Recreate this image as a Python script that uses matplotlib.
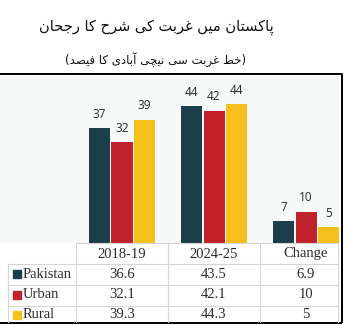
import numpy as np
import matplotlib
matplotlib.use("Agg")
import matplotlib.pyplot as plt

# --- data ---
periods = ["2018-19", "2024-25", "Change"]
series = ["Pakistan", "Urban", "Rural"]
pakistan = [36.6, 43.5, 6.9]
urban = [32.1, 42.1, 10]
rural = [39.3, 44.3, 5]
bar_labels = [[37, 44, 7], [32, 42, 10], [39, 44, 5]]
colors = ["#1a3f4b", "#c1212b", "#f6c01c"]
title = "پاکستان میں غربت کی شرح کا رجحان"
subtitle = "(خط غربت سے نیچے آبادی کا فیصد)"

# minimal arabic/urdu shaping (matplotlib has no text shaping)
# iso, fin, ini, med ; None -> letter does not join to the next one
FORMS = {
    'ا': (0xFE8D, 0xFE8E, None, None),
    'آ': (0xFE81, 0xFE82, None, None),
    'ب': (0xFE8F, 0xFE90, 0xFE91, 0xFE92),
    'پ': (0xFB56, 0xFB57, 0xFB58, 0xFB59),
    'ت': (0xFE95, 0xFE96, 0xFE97, 0xFE98),
    'ج': (0xFE9D, 0xFE9E, 0xFE9F, 0xFEA0),
    'چ': (0xFB7A, 0xFB7B, 0xFB7C, 0xFB7D),
    'ح': (0xFEA1, 0xFEA2, 0xFEA3, 0xFEA4),
    'خ': (0xFEA5, 0xFEA6, 0xFEA7, 0xFEA8),
    'د': (0xFEA9, 0xFEAA, None, None),
    'ر': (0xFEAD, 0xFEAE, None, None),
    'س': (0xFEB1, 0xFEB2, 0xFEB3, 0xFEB4),
    'ش': (0xFEB5, 0xFEB6, 0xFEB7, 0xFEB8),
    'ص': (0xFEB9, 0xFEBA, 0xFEBB, 0xFEBC),
    'ط': (0xFEC1, 0xFEC2, 0xFEC3, 0xFEC4),
    'غ': (0xFECD, 0xFECE, 0xFECF, 0xFED0),
    'ف': (0xFED1, 0xFED2, 0xFED3, 0xFED4),
    'ک': (0xFB8E, 0xFB8F, 0xFB90, 0xFB91),
    'م': (0xFEE1, 0xFEE2, 0xFEE3, 0xFEE4),
    'ن': (0xFEE5, 0xFEE6, 0xFEE7, 0xFEE8),
    'ں': (0xFB9E, 0xFB9F, None, None),
    'ی': (0xFBFC, 0xFBFD, 0xFBFE, 0xFBFF),
    # no installed font has yeh barree, use the nearest dotless yeh glyph
    'ے': (0xFEEF, 0xFEF0, None, None),
}


def shape_rtl(s):
    out = []
    for i, ch in enumerate(s):
        f = FORMS.get(ch)
        if f is None:
            out.append({'(': ')', ')': '('}.get(ch, ch))
            continue
        prev = s[i - 1] if i > 0 else ''
        nxt = s[i + 1] if i + 1 < len(s) else ''
        jp = prev in FORMS and FORMS[prev][2] is not None
        jn = nxt in FORMS and f[2] is not None
        if jp and jn:
            code = f[3]
        elif jp:
            code = f[1]
        elif jn:
            code = f[2]
        else:
            code = f[0]
        out.append(chr(code))
    return "".join(reversed(out))


W, H = 344, 325
fig = plt.figure(figsize=(W / 100, H / 100), dpi=100)


def fx(x):
    return x / W


def fy(y):
    return 1 - y / H


# bar area
left_px, right_px, top_px, base_px = 0, 339, 76, 243
ax = fig.add_axes([fx(left_px), fy(base_px), fx(right_px - left_px), (base_px - top_px) / H])
ax.set_facecolor("#f7f9f9")
for s in ax.spines.values():
    s.set_visible(False)
ax.set_xticks([])
ax.set_yticks([])

grp = 92.0
ax.set_xlim(-122 / grp, (right_px - 122) / grp)
ax.set_ylim(0, (base_px - top_px) / 3.14)

x = np.arange(len(periods))
width = 21 / grp
step = 22.3 / grp
for k, vals in enumerate([pakistan, urban, rural]):
    pos = x + (k - 1) * step
    ax.bar(pos, vals, width=width, color=colors[k], zorder=2)
    for p, v, lab in zip(pos, vals, bar_labels[k]):
        ax.annotate(str(lab), (p, v), xytext=(0, 10), textcoords="offset points",
                    ha="center", va="center", fontsize=8.5, color="#333333",
                    family="Noto Sans")

# overlay for table, borders and titles
ov = fig.add_axes([0, 0, 1, 1])
ov.set_xlim(0, W)
ov.set_ylim(H, 0)
ov.axis("off")
ov.patch.set_alpha(0)

arabic = dict(family=["DejaVu Sans"], color="#111111", ha="center", va="center")
ov.text(156, 27, shape_rtl(title), fontsize=10.5, **arabic)
ov.text(156, 60, shape_rtl(subtitle), fontsize=8.5, **arabic)

# black frame
ov.plot([0, 342, 342], [74, 74, 323], color="black", lw=1.4, solid_capstyle="butt")
ov.plot([0, 342], [323, 323], color="black", lw=1.4, solid_capstyle="butt")

# table grid
gc = "#d6d6d6"
col_x = [76, 168, 260, 338]
row_y = [242.5, 263.5, 284.5, 305.5]
ov.plot([76, 338], [row_y[0], row_y[0]], color=gc, lw=0.8)
for yy in row_y[1:]:
    ov.plot([8, 338], [yy, yy], color=gc, lw=0.8)
ov.plot([8, 8], [row_y[1], 322], color=gc, lw=0.8)
for xx in col_x:
    ov.plot([xx, xx], [row_y[0], 322], color=gc, lw=0.8)

centers = [122, 214, 306]
serif = dict(family="Liberation Serif", fontsize=10.5, color="#2b2b2b", va="center")
for c, p in zip(centers, periods):
    ov.text(c, 254, p, ha="center", **serif)

row_c = [274, 294.5, 314.5]
for k, (name, vals) in enumerate(zip(series, [pakistan, urban, rural])):
    ov.add_patch(plt.Rectangle((13, row_c[k] - 4), 8, 8, color=colors[k]))
    ov.text(23, row_c[k], name, ha="left", **serif)
    for c, v in zip(centers, vals):
        ov.text(c, row_c[k], f"{v:g}", ha="center", **serif)

fig.savefig("out.png", dpi=100)
